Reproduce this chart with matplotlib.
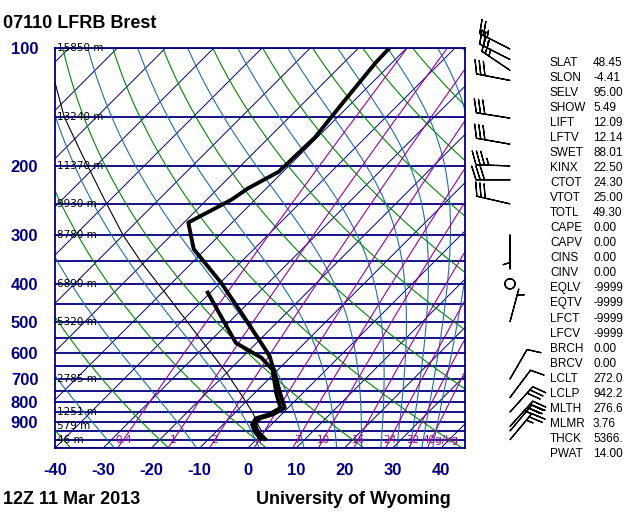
import numpy as np
import matplotlib
matplotlib.use('Agg')
import matplotlib.pyplot as plt

plt.rcParams['font.family'] = ['Liberation Sans', 'DejaVu Sans']
plt.rcParams['axes.unicode_minus'] = False

# ---- sounding data ----
temp_p = [1003, 953, 915, 882, 862, 829, 759, 674, 610, 494, 397, 326, 279, 244, 228, 207, 169, 136, 109, 100]
temp_c = [2.2, -1.4, -3.4, -3.7, -1.8, -0.7, -4.8, -10.1, -14.7, -27.0, -39.9, -52.5, -59.1, -54.9, -53.8,
          -50.9, -50.5, -52.0, -53.4, -53.6]
dewp_p = [1003, 953, 915, 882, 862, 829, 759, 663, 617, 589, 566, 417]
dewp_c = [1.2, -2.0, -4.0, -4.5, -2.6, -1.6, -5.6, -11.1, -16.0, -20.5, -24.3, -41.1]
parcel_p = [942, 915, 852, 776, 674, 579, 494, 422, 353, 300, 244, 184, 150, 115]
parcel_c = [-1.2, -2.8, -6.4, -11.8, -20.1, -29.6, -39.5, -49.3, -60.5, -70.1, -81.2, -96.1, -106.7, -118.6]

wind_p = [100.6, 107, 114, 121, 151, 176, 200, 217, 250, 300, 400, 500, 700, 780, 850, 925, 950, 1000]
wind_dir = [297, 297, 304, 281, 279, 280, 272, 270, 283, 180, 0, 15, 30, 37, 42, 42, 40, 40]
wind_kt = [25, 25, 25, 30, 30, 30, 35, 30, 30, 5, 0, 5, 10, 10, 30, 35, 30, 25]

height_p = [100, 150, 200, 250, 300, 400, 500, 700, 850, 925, 1000]
height_lbl = ['15850 m', '13240 m', '11370 m', '9930 m', '8780 m', '6890 m', '5320 m', '2785 m',
              '1251 m', '579 m', '46 m']

p_ticks = [100, 200, 300, 400, 500, 600, 700, 800, 900]
t_ticks = [-40, -30, -20, -10, 0, 10, 20, 30, 40]
isobars = list(range(100, 1051, 50))
isotherms = list(range(-130, 50, 10))
dry_theta = list(range(-40, 181, 20))
moist_theta_top = list(range(-30, 171, 20))
mix_ratios = [0.4, 1, 2, 4, 7, 10, 16, 24, 32, 40]
mix_labels = ['0.4', '1', '2', '4', '7', '10', '16', '24', '32', '40g/kg']

index_names = ['SLAT', 'SLON', 'SELV', 'SHOW', 'LIFT', 'LFTV', 'SWET', 'KINX', 'CTOT', 'VTOT', 'TOTL',
               'CAPE', 'CAPV', 'CINS', 'CINV', 'EQLV', 'EQTV', 'LFCT', 'LFCV', 'BRCH', 'BRCV', 'LCLT',
               'LCLP', 'MLTH', 'MLMR', 'THCK', 'PWAT']
index_values = ['48.45', '-4.41', '95.00', '5.49', '12.09', '12.14', '88.01', '22.50', '24.30', '25.00',
                '49.30', '0.00', '0.00', '0.00', '0.00', '-9999', '-9999', '-9999', '-9999', '0.00',
                '0.00', '272.0', '942.2', '276.6', '3.76', '5366.', '14.00']

NAVY = '#000080'
GREEN = '#008800'
TEAL = '#1f6ea6'
PURPLE = '#9a009a'

W, H = 640, 512
fig = plt.figure(figsize=(6.4, 5.12), dpi=100)


def rect(x0, y0, x1, y1):
    return [x0 / W, 1 - y1 / H, (x1 - x0) / W, (y1 - y0) / H]


P_BOT, P_TOP = 1050, 100
ax = fig.add_axes(rect(55, 48, 465, 448))
ax.set_yscale('log')
ax.set_ylim(P_BOT, P_TOP)
ax.set_xlim(-40, 45)
# 45 degree isotherms
skew = (400 / np.log(P_BOT / P_TOP)) / (410 / 85)


def sx(t, p):
    return np.asarray(t) + skew * np.log(P_BOT / np.asarray(p, dtype=float))


pp = np.geomspace(P_TOP, P_BOT, 300)

for p in isobars:
    ax.axhline(p, color=NAVY, lw=1.3, zorder=2)

for t in isotherms:
    ax.plot(sx([t, t], [P_BOT, P_TOP]), [P_BOT, P_TOP], color=NAVY, lw=0.7, zorder=2)

for th in dry_theta:
    tt = (th + 273.15) * (pp / 1000.0) ** 0.2857 - 273.15
    ax.plot(sx(tt, pp), pp, color=GREEN, lw=0.8, zorder=2)

Rd, cp, Lv, eps = 287.04, 1005.7, 2.501e6, 0.622


def dtdp(T, p):
    es = 6.112 * np.exp(17.67 * (T - 273.15) / (T - 29.65))
    rs = eps * es / (p - es)
    return (Rd * T + Lv * rs) / (p * (cp + Lv * Lv * rs * eps / (Rd * T * T)))


for th in moist_theta_top:
    T = (th + 273.15) * (P_TOP / 1000.0) ** 0.2857
    out = [T]
    for i in range(1, len(pp)):
        p0, h = pp[i - 1], pp[i] - pp[i - 1]
        k1 = dtdp(T, p0)
        k2 = dtdp(T + h * k1 / 2, p0 + h / 2)
        k3 = dtdp(T + h * k2 / 2, p0 + h / 2)
        k4 = dtdp(T + h * k3, p0 + h)
        T = T + h * (k1 + 2 * k2 + 2 * k3 + k4) / 6
        out.append(T)
    ax.plot(sx(np.array(out) - 273.15, pp), pp, color=TEAL, lw=0.8, zorder=2)

for w, lbl in zip(mix_ratios, mix_labels):
    e = w * pp / (622.0 + w)
    a = np.log(e / 6.112)
    td = 243.5 * a / (17.67 - a)
    ax.plot(sx(td, pp), pp, color=PURPLE, lw=0.8, zorder=2)
    e0 = w * 1000 / (622.0 + w)
    a0 = np.log(e0 / 6.112)
    x0 = sx(243.5 * a0 / (17.67 - a0), 1000)
    if lbl.endswith('g/kg'):
        ax.text(x0 - 1.8, 1000, lbl, color=PURPLE, fontsize=7.5, family='DejaVu Sans',
                ha='left', va='center', zorder=3)
    else:
        ax.text(x0, 1000, lbl, color=PURPLE, fontsize=7.5, family='DejaVu Sans',
                ha='center', va='center', zorder=3)

ax.plot(sx(parcel_c, parcel_p), parcel_p, color='black', lw=0.8, zorder=4)
ax.plot(sx(dewp_c, dewp_p), dewp_p, color='black', lw=2.8, zorder=5, solid_capstyle='butt')
ax.plot(sx(temp_c, temp_p), temp_p, color='black', lw=2.8, zorder=5, solid_capstyle='butt')

for p, lbl in zip(height_p, height_lbl):
    ax.text(-39.6, p, lbl, fontsize=7.5, family='DejaVu Sans', va='center', ha='left', zorder=6)

ax.set_yticks(p_ticks)
ax.set_yticklabels([str(p) for p in p_ticks])
ax.yaxis.set_minor_locator(matplotlib.ticker.NullLocator())
ax.set_xticks(t_ticks)
ax.set_xticklabels([str(t) for t in t_ticks])
ax.tick_params(axis='y', length=0, pad=12, labelsize=12, labelcolor=NAVY)
ax.tick_params(axis='x', length=0, pad=11, labelsize=12, labelcolor=NAVY)
for lab in ax.get_xticklabels() + ax.get_yticklabels():
    lab.set_fontweight('bold')
for s in ax.spines.values():
    s.set_color(NAVY)
    s.set_linewidth(1.3)

# wind barbs column
axw = fig.add_axes(rect(470, 48, 550, 448))
axw.set_yscale('log')
axw.set_ylim(P_BOT, P_TOP)
axw.set_xlim(-40, 40)
axw.axis('off')
rad = np.deg2rad(wind_dir)
u = -np.array(wind_kt) * np.sin(rad)
v = -np.array(wind_kt) * np.cos(rad)
axw.barbs(np.zeros(len(wind_p)), wind_p, u, v, length=7, pivot='tip', color='black',
          linewidth=0.9, clip_on=False)

# text
fig.text(3 / W, 1 - 24 / H, '07110 LFRB Brest', fontsize=13, fontweight='bold', va='center')
fig.text(3 / W, 1 - 500 / H, '12Z 11 Mar 2013', fontsize=13, fontweight='bold', va='center')
fig.text(256 / W, 1 - 500 / H, 'University of Wyoming', fontsize=13, fontweight='bold', va='center')
for i, (n, val) in enumerate(zip(index_names, index_values)):
    y = 63 + i * 15.03
    fig.text(550 / W, 1 - y / H, n, fontsize=8.5, va='center')
    fig.text(593 / W, 1 - y / H, val, fontsize=8.5, va='center')

fig.savefig('out.png', dpi=100)
